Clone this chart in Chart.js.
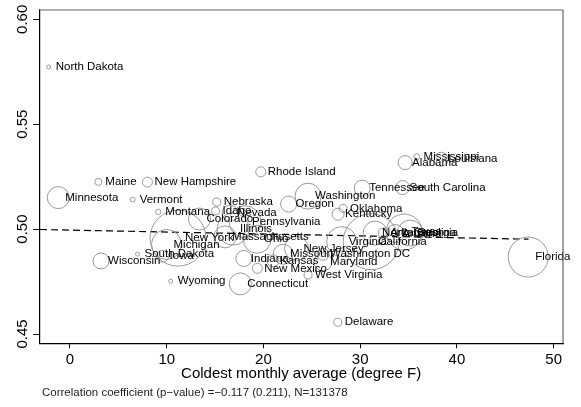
<!DOCTYPE html>
<html>
<head>
<meta charset="utf-8">
<script src="https://cdn.jsdelivr.net/npm/chart.js@4"></script>
<style>
  html, body { margin: 0; padding: 0; background: #fff; }
</style>
</head>
<body>
<canvas id="chart" width="581" height="407"></canvas>
<script>
const states = [
  'North Dakota', 'Maine', 'New Hampshire', 'Rhode Island', 'Minnesota', 'Vermont',
  'Montana', 'Nebraska', 'Idaho', 'Nevada', 'Colorado', 'Pennsylvania',
  'Illinois', 'Massachusetts', 'Ohio', 'New York', 'Michigan', 'South Dakota',
  'Iowa', 'Wisconsin', 'Wyoming', 'Connecticut', 'Indiana', 'Kansas',
  'New Mexico', 'Missouri', 'New Jersey', 'West Virginia', 'Maryland', 'Washington DC',
  'Virginia', 'California', 'Washington', 'Oregon', 'Tennessee', 'South Carolina',
  'Alabama', 'Mississippi', 'Louisiana', 'Oklahoma', 'Kentucky', 'North Carolina',
  'Arkansas', 'Arizona', 'Texas', 'Georgia', 'Delaware', 'Florida'
];
// coldest monthly average, degree F
const coldest = [
  -2.20, 2.93, 8.01, 19.72, -1.21, 6.48,
  9.13, 15.17, 15.05, 16.55, 13.39, 18.10,
  16.86, 16.03, 19.34, 11.17, 9.98, 6.98,
  9.57, 3.21, 10.41, 17.61, 17.97, 20.99,
  19.37, 22.03, 23.42, 24.61, 26.16, 26.16,
  28.08, 31.13, 24.61, 22.60, 30.20, 34.38,
  34.64, 35.83, 38.37, 28.23, 27.71, 31.54,
  32.37, 33.61, 34.54, 35.16, 27.68, 47.36
];
const share = [
  0.5773, 0.5225, 0.5224, 0.5273, 0.5150, 0.5141,
  0.5082, 0.5129, 0.5086, 0.5076, 0.5048, 0.5035,
  0.5000, 0.4963, 0.4952, 0.4957, 0.4927, 0.4881,
  0.4871, 0.4848, 0.4752, 0.4739, 0.4860, 0.4849,
  0.4813, 0.4880, 0.4908, 0.4781, 0.4844, 0.4880,
  0.4940, 0.4940, 0.5157, 0.5119, 0.5195, 0.5198,
  0.5317, 0.5345, 0.5333, 0.5099, 0.5071, 0.4981,
  0.4981, 0.4979, 0.4986, 0.4981, 0.4556, 0.4867
];
// observations per state (marker weight)
const sampleN = [
  92, 283, 578, 578, 2795, 144,
  168, 370, 370, 1478, 2795, 5914,
  5914, 2795, 4528, 18110, 5198, 92,
  832, 1478, 92, 2795, 1478, 832,
  578, 2310, 3326, 370, 1871, 832,
  5198, 18110, 3904, 1478, 1478, 1132,
  1132, 208, 1132, 370, 832, 3326,
  578, 1871, 7484, 3904, 370, 9240
];
const xTicks = [0, 10, 20, 30, 40, 50];
const yTicks = [0.45, 0.50, 0.55, 0.60];
const fitX = [-3.1, 47.4];
const fitY = [0.4998, 0.4952];
const xTitle = 'Coldest monthly average (degree F)';
const noteText = 'Correlation coefficient (p\u2212value) =\u22120.117 (0.211), N=131378';

const FONT = '"Liberation Sans", Arial, Helvetica, sans-serif';

const bubbles = states.map((s, i) => ({
  x: coldest[i],
  y: share[i],
  r: 0.208 * Math.sqrt(sampleN[i])
}));

const noPadding = s => {
  s.paddingLeft = 0;
  s.paddingRight = 0;
  s.paddingTop = 0;
  s.paddingBottom = 0;
};

const decorations = {
  id: 'decorations',
  afterDatasetsDraw(chart) {
    const ctx = chart.ctx;
    const meta = chart.getDatasetMeta(0);
    ctx.save();
    ctx.fillStyle = '#000';
    ctx.font = '11.5px ' + FONT;
    ctx.textAlign = 'left';
    ctx.textBaseline = 'middle';
    meta.data.forEach((pt, i) => {
      ctx.fillText(states[i], pt.x + 7, pt.y);
    });
    ctx.restore();
  },
  afterDraw(chart) {
    const ctx = chart.ctx;
    const a = chart.chartArea;
    const y = chart.scales.y;

    ctx.save();
    ctx.strokeStyle = '#666';
    ctx.lineWidth = 1.2;
    ctx.beginPath();
    ctx.moveTo(a.left, a.top);
    ctx.lineTo(a.right, a.top);
    ctx.lineTo(a.right, a.bottom);
    ctx.stroke();

    ctx.fillStyle = '#000';
    ctx.font = '15px ' + FONT;
    yTicks.forEach(v => {
      ctx.save();
      ctx.translate(26.5, y.getPixelForValue(v));
      ctx.rotate(-Math.PI / 2);
      ctx.textAlign = 'center';
      ctx.textBaseline = 'alphabetic';
      ctx.fillText(v.toFixed(2), 0, 0);
      ctx.restore();
    });

    ctx.textAlign = 'center';
    ctx.textBaseline = 'middle';
    ctx.fillText(xTitle, (a.left + a.right) / 2, 373.5);

    ctx.font = '11.5px ' + FONT;
    ctx.fillStyle = '#222';
    ctx.textAlign = 'left';
    ctx.fillText(noteText, 42, 392.7);
    ctx.restore();
  }
};

new Chart(document.getElementById('chart'), {
  type: 'bubble',
  data: {
    datasets: [
      {
        data: bubbles,
        backgroundColor: 'rgba(0,0,0,0)',
        borderColor: '#999',
        borderWidth: 1,
        hoverRadius: 0
      },
      {
        type: 'line',
        data: fitX.map((x, i) => ({ x: x, y: fitY[i] })),
        borderColor: '#000',
        borderWidth: 1.2,
        borderDash: [7, 4],
        pointRadius: 0,
        fill: false
      }
    ]
  },
  options: {
    responsive: false,
    animation: false,
    layout: { autoPadding: false, padding: { top: 10, right: 18, left: 0, bottom: 0 } },
    plugins: {
      legend: { display: false },
      tooltip: { enabled: false }
    },
    scales: {
      x: {
        type: 'linear',
        min: -3.17,
        max: 50.96,
        afterBuildTicks: s => { s.ticks = xTicks.map(v => ({ value: v })); },
        afterFit: s => { s.height = 63.7; noPadding(s); },
        ticks: { font: { size: 15, family: FONT }, color: '#000', padding: 3, maxRotation: 0 },
        grid: { drawOnChartArea: false, drawTicks: true, tickLength: 5, color: '#000' },
        border: { color: '#000', width: 1.2 }
      },
      y: {
        type: 'linear',
        min: 0.44557,
        max: 0.60443,
        afterBuildTicks: s => { s.ticks = yTicks.map(v => ({ value: v })); },
        afterFit: s => { s.width = 39.3; noPadding(s); },
        ticks: { callback: () => '' },
        grid: { drawOnChartArea: false, drawTicks: true, tickLength: 6, color: '#000' },
        border: { color: '#000', width: 1.2 }
      }
    }
  },
  plugins: [decorations]
});
</script>
</body>
</html>
